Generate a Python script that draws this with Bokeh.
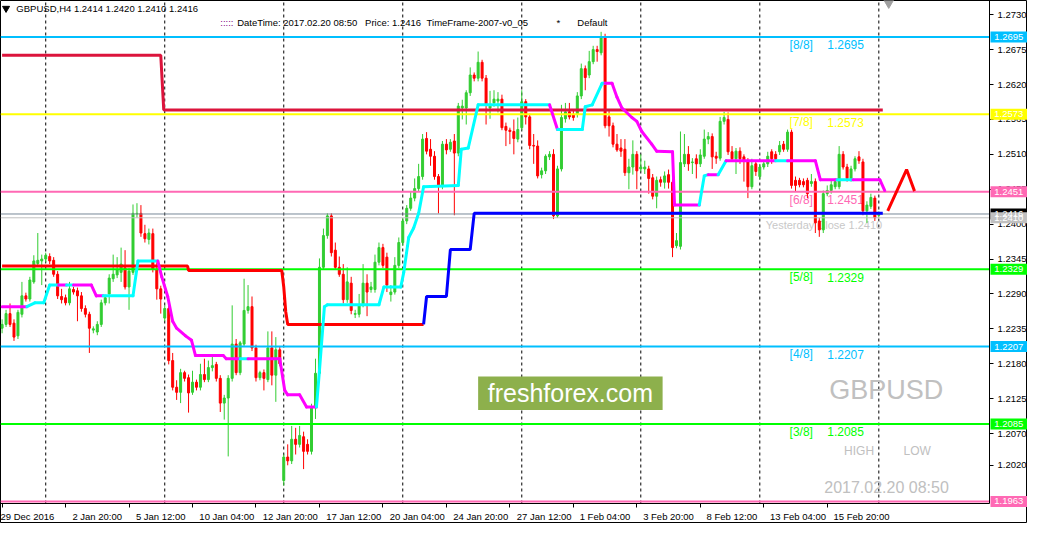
import numpy as np
from bokeh.plotting import figure
from bokeh.models import Range1d, FixedTicker, PrintfTickFormatter, LinearAxis
from bokeh.core.properties import value
from bokeh.embed import file_html
from bokeh.resources import INLINE

FONT = "Liberation Sans"

# ---------------- data: GBPUSD H4 candles ----------------
opens = [
 1.2236, 1.2242, 1.2259, 1.2244, 1.2224, 1.2258, 1.2287, 1.2282, 1.2309, 1.2338,
 1.2342, 1.2345, 1.2349, 1.2343, 1.2321, 1.2286, 1.2284, 1.2276, 1.2297, 1.2295,
 1.2287, 1.2267, 1.2258, 1.2233, 1.2230, 1.2242, 1.2276, 1.2290, 1.2314, 1.2320,
 1.2324, 1.2331, 1.2301, 1.2324, 1.2416, 1.2417, 1.2385, 1.2376, 1.2385, 1.2329,
 1.2298, 1.2252, 1.2267, 1.2185, 1.2143, 1.2135, 1.2166, 1.2158, 1.2135, 1.2151,
 1.2143, 1.2163, 1.2155, 1.2174, 1.2179, 1.2157, 1.2118, 1.2126, 1.2157, 1.2211,
 1.2166, 1.2211, 1.2264, 1.2270, 1.2205, 1.2158, 1.2166, 1.2155, 1.2205, 1.2162,
 1.2202, 1.1996, 1.2033, 1.2027, 1.2061, 1.2053, 1.2065, 1.2053, 1.2042, 1.2112,
 1.2165, 1.2332, 1.2382, 1.2413, 1.2359, 1.2332, 1.2321, 1.2281, 1.2307, 1.2258,
 1.2258, 1.2273, 1.2307, 1.2297, 1.2297, 1.2340, 1.2363, 1.2348, 1.2289, 1.2293,
 1.2335, 1.2371, 1.2405, 1.2425, 1.2441, 1.2456, 1.2475, 1.2535, 1.2518, 1.2507,
 1.2475, 1.2459, 1.2526, 1.2518, 1.2531, 1.2512, 1.2583, 1.2583, 1.2607, 1.2635,
 1.2630, 1.2655, 1.2630, 1.2583, 1.2591, 1.2594, 1.2597, 1.2554, 1.2548, 1.2546,
 1.2534, 1.2552, 1.2593, 1.2569, 1.2524, 1.2523, 1.2478, 1.2484, 1.2506, 1.2510,
 1.2413, 1.2487, 1.2566, 1.2577, 1.2573, 1.2573, 1.2602, 1.2645, 1.2635, 1.2656,
 1.2675, 1.2670, 1.2694, 1.2569, 1.2555, 1.2526, 1.2520, 1.2518, 1.2481, 1.2490,
 1.2510, 1.2487, 1.2487, 1.2487, 1.2473, 1.2444, 1.2470, 1.2466, 1.2478, 1.2466,
 1.2366, 1.2365, 1.2495, 1.2510, 1.2497, 1.2503, 1.2495, 1.2507, 1.2534, 1.2538,
 1.2507, 1.2504, 1.2562, 1.2565, 1.2514, 1.2503, 1.2515, 1.2506, 1.2498, 1.2459,
 1.2495, 1.2475, 1.2490, 1.2495, 1.2514, 1.2510, 1.2514, 1.2526, 1.2518, 1.2545,
 1.2469, 1.2469, 1.2467, 1.2469, 1.2464, 1.2467, 1.2405, 1.2391, 1.2448, 1.2453,
 1.2459, 1.2459, 1.2510, 1.2490, 1.2472, 1.2487, 1.2506, 1.2498, 1.2421, 1.2428,
 1.2441, 1.2414]
highs = [
 1.2250, 1.2265, 1.2275, 1.2250, 1.2265, 1.2309, 1.2292, 1.2317, 1.2351, 1.2386,
 1.2352, 1.2355, 1.2354, 1.2348, 1.2326, 1.2298, 1.2289, 1.2309, 1.2301, 1.2300,
 1.2293, 1.2272, 1.2262, 1.2239, 1.2247, 1.2281, 1.2289, 1.2321, 1.2352, 1.2348,
 1.2363, 1.2359, 1.2331, 1.2431, 1.2433, 1.2430, 1.2399, 1.2393, 1.2393, 1.2340,
 1.2303, 1.2272, 1.2275, 1.2197, 1.2154, 1.2172, 1.2169, 1.2163, 1.2169, 1.2155,
 1.2180, 1.2188, 1.2185, 1.2194, 1.2183, 1.2162, 1.2131, 1.2162, 1.2272, 1.2219,
 1.2216, 1.2314, 1.2304, 1.2286, 1.2210, 1.2169, 1.2171, 1.2231, 1.2231, 1.2222,
 1.2208, 1.2037, 1.2053, 1.2082, 1.2079, 1.2082, 1.2073, 1.2061, 1.2117, 1.2188,
 1.2346, 1.2393, 1.2417, 1.2417, 1.2371, 1.2349, 1.2337, 1.2332, 1.2317, 1.2265,
 1.2290, 1.2337, 1.2321, 1.2309, 1.2352, 1.2371, 1.2369, 1.2355, 1.2304, 1.2348,
 1.2379, 1.2410, 1.2430, 1.2452, 1.2472, 1.2495, 1.2542, 1.2545, 1.2534, 1.2515,
 1.2479, 1.2531, 1.2534, 1.2534, 1.2542, 1.2591, 1.2596, 1.2611, 1.2647, 1.2639,
 1.2672, 1.2659, 1.2635, 1.2610, 1.2611, 1.2608, 1.2604, 1.2560, 1.2552, 1.2565,
 1.2568, 1.2611, 1.2597, 1.2574, 1.2542, 1.2532, 1.2489, 1.2510, 1.2515, 1.2518,
 1.2492, 1.2588, 1.2591, 1.2591, 1.2580, 1.2608, 1.2653, 1.2650, 1.2673, 1.2681,
 1.2681, 1.2703, 1.2700, 1.2580, 1.2560, 1.2542, 1.2534, 1.2534, 1.2503, 1.2532,
 1.2515, 1.2510, 1.2500, 1.2492, 1.2479, 1.2475, 1.2475, 1.2483, 1.2486, 1.2475,
 1.2386, 1.2546, 1.2542, 1.2523, 1.2504, 1.2510, 1.2518, 1.2549, 1.2545, 1.2543,
 1.2514, 1.2569, 1.2577, 1.2576, 1.2523, 1.2520, 1.2521, 1.2510, 1.2504, 1.2503,
 1.2500, 1.2495, 1.2501, 1.2514, 1.2518, 1.2515, 1.2531, 1.2531, 1.2549, 1.2549,
 1.2475, 1.2473, 1.2472, 1.2473, 1.2479, 1.2472, 1.2410, 1.2453, 1.2461, 1.2469,
 1.2472, 1.2523, 1.2515, 1.2495, 1.2492, 1.2507, 1.2515, 1.2503, 1.2436, 1.2448,
 1.2445, 1.2420]
lows = [
 1.2228, 1.2238, 1.2238, 1.2216, 1.2219, 1.2253, 1.2278, 1.2278, 1.2306, 1.2334,
 1.2304, 1.2340, 1.2337, 1.2317, 1.2282, 1.2275, 1.2272, 1.2272, 1.2289, 1.2247,
 1.2262, 1.2253, 1.2197, 1.2228, 1.2225, 1.2238, 1.2272, 1.2275, 1.2309, 1.2315,
 1.2309, 1.2297, 1.2265, 1.2320, 1.2410, 1.2380, 1.2371, 1.2368, 1.2324, 1.2281,
 1.2259, 1.2247, 1.2179, 1.2138, 1.2123, 1.2118, 1.2152, 1.2103, 1.2131, 1.2138,
 1.2138, 1.2151, 1.2151, 1.2168, 1.2152, 1.2104, 1.2092, 1.2034, 1.2152, 1.2162,
 1.2162, 1.2207, 1.2259, 1.2200, 1.2152, 1.2154, 1.2138, 1.2151, 1.2146, 1.2120,
 1.2176, 1.1988, 1.2020, 1.2022, 1.2037, 1.2048, 1.2014, 1.2037, 1.2037, 1.2093,
 1.2160, 1.2328, 1.2377, 1.2349, 1.2328, 1.2317, 1.2275, 1.2276, 1.2258, 1.2252,
 1.2253, 1.2269, 1.2255, 1.2292, 1.2292, 1.2335, 1.2331, 1.2293, 1.2278, 1.2289,
 1.2331, 1.2366, 1.2400, 1.2421, 1.2436, 1.2452, 1.2470, 1.2510, 1.2492, 1.2470,
 1.2417, 1.2455, 1.2510, 1.2514, 1.2414, 1.2507, 1.2565, 1.2557, 1.2602, 1.2625,
 1.2625, 1.2625, 1.2557, 1.2566, 1.2585, 1.2576, 1.2548, 1.2523, 1.2526, 1.2510,
 1.2529, 1.2548, 1.2557, 1.2518, 1.2495, 1.2472, 1.2472, 1.2479, 1.2501, 1.2408,
 1.2410, 1.2483, 1.2560, 1.2565, 1.2563, 1.2568, 1.2597, 1.2611, 1.2630, 1.2652,
 1.2656, 1.2666, 1.2551, 1.2538, 1.2521, 1.2514, 1.2506, 1.2476, 1.2455, 1.2478,
 1.2455, 1.2483, 1.2479, 1.2448, 1.2439, 1.2425, 1.2459, 1.2456, 1.2456, 1.2348,
 1.2362, 1.2360, 1.2490, 1.2484, 1.2479, 1.2472, 1.2490, 1.2503, 1.2526, 1.2487,
 1.2495, 1.2500, 1.2557, 1.2509, 1.2498, 1.2479, 1.2495, 1.2467, 1.2441, 1.2455,
 1.2476, 1.2470, 1.2486, 1.2490, 1.2495, 1.2498, 1.2509, 1.2514, 1.2514, 1.2456,
 1.2452, 1.2458, 1.2458, 1.2441, 1.2459, 1.2386, 1.2380, 1.2386, 1.2444, 1.2448,
 1.2455, 1.2455, 1.2486, 1.2467, 1.2467, 1.2483, 1.2495, 1.2414, 1.2402, 1.2424,
 1.2405, 1.2410]
closes = [
 1.2242, 1.2259, 1.2242, 1.2222, 1.2261, 1.2287, 1.2282, 1.2312, 1.2342, 1.2343,
 1.2345, 1.2351, 1.2342, 1.2321, 1.2287, 1.2281, 1.2276, 1.2298, 1.2293, 1.2287,
 1.2267, 1.2258, 1.2236, 1.2235, 1.2242, 1.2276, 1.2284, 1.2315, 1.2321, 1.2328,
 1.2337, 1.2301, 1.2326, 1.2417, 1.2417, 1.2386, 1.2377, 1.2386, 1.2329, 1.2298,
 1.2282, 1.2267, 1.2185, 1.2143, 1.2135, 1.2166, 1.2157, 1.2134, 1.2151, 1.2143,
 1.2163, 1.2155, 1.2174, 1.2177, 1.2157, 1.2118, 1.2126, 1.2157, 1.2211, 1.2166,
 1.2213, 1.2264, 1.2270, 1.2205, 1.2158, 1.2166, 1.2157, 1.2205, 1.2162, 1.2202,
 1.2180, 1.2033, 1.2027, 1.2061, 1.2053, 1.2067, 1.2042, 1.2042, 1.2112, 1.2165,
 1.2332, 1.2382, 1.2413, 1.2355, 1.2332, 1.2321, 1.2281, 1.2309, 1.2264, 1.2259,
 1.2273, 1.2307, 1.2293, 1.2301, 1.2340, 1.2363, 1.2335, 1.2304, 1.2293, 1.2335,
 1.2371, 1.2405, 1.2425, 1.2441, 1.2456, 1.2475, 1.2534, 1.2515, 1.2507, 1.2475,
 1.2459, 1.2526, 1.2517, 1.2529, 1.2512, 1.2586, 1.2586, 1.2607, 1.2635, 1.2630,
 1.2655, 1.2630, 1.2588, 1.2588, 1.2597, 1.2597, 1.2552, 1.2548, 1.2546, 1.2535,
 1.2549, 1.2593, 1.2569, 1.2524, 1.2523, 1.2476, 1.2484, 1.2507, 1.2510, 1.2413,
 1.2487, 1.2568, 1.2577, 1.2569, 1.2568, 1.2602, 1.2645, 1.2631, 1.2656, 1.2675,
 1.2672, 1.2694, 1.2555, 1.2555, 1.2526, 1.2517, 1.2515, 1.2481, 1.2490, 1.2510,
 1.2484, 1.2490, 1.2490, 1.2472, 1.2444, 1.2469, 1.2466, 1.2476, 1.2466, 1.2363,
 1.2374, 1.2497, 1.2510, 1.2495, 1.2498, 1.2495, 1.2509, 1.2534, 1.2538, 1.2506,
 1.2504, 1.2562, 1.2568, 1.2514, 1.2503, 1.2515, 1.2503, 1.2500, 1.2459, 1.2492,
 1.2483, 1.2490, 1.2495, 1.2507, 1.2503, 1.2503, 1.2524, 1.2518, 1.2545, 1.2461,
 1.2461, 1.2462, 1.2462, 1.2448, 1.2467, 1.2402, 1.2391, 1.2448, 1.2453, 1.2462,
 1.2467, 1.2510, 1.2490, 1.2472, 1.2487, 1.2503, 1.2500, 1.2421, 1.2430, 1.2442,
 1.2410, 1.2416]

x_tick_bars = [0, 16, 32, 48, 64, 80, 96, 112, 128, 144, 160, 176, 192, 208]
x_tick_labels = ["29 Dec 2016", "2 Jan 20:00", "5 Jan 12:00", "10 Jan 04:00",
                 "12 Jan 20:00", "17 Jan 12:00", "20 Jan 04:00", "24 Jan 20:00",
                 "27 Jan 12:00", "1 Feb 04:00", "3 Feb 20:00", "8 Feb 12:00",
                 "13 Feb 04:00", "15 Feb 20:00"]
y_ticks = [1.2730, 1.2675, 1.2620, 1.2565, 1.2510, 1.2455, 1.2400, 1.2345,
           1.2290, 1.2235, 1.2180, 1.2125, 1.2070, 1.2020]
grid_bars = [11, 41, 71, 101, 131, 161, 191, 221]

# Murrey Math levels
mm_levels = [1.2695, 1.2573, 1.2451, 1.2329, 1.2207, 1.2085, 1.1963]
mm_names = ["[8/8]", "[7/8]", "[6/8]", "[5/8]", "[4/8]", "[3/8]", "[2/8]"]
mm_colors = ["#00BFFF", "#FFFF00", "#FF69B4", "#00FF00", "#00BFFF", "#00FF00", "#FF69B4"]
yesterday_close = 1.2410
bid = 1.2416

# upper step line (crimson)
hi_step_x = [0, 40, 40.75, 222]
hi_step_y = [1.2666, 1.2666, 1.2580, 1.2580]
# lower step line: red (down) part then blue (up) part
lo_red_x = [0, 46.75, 47, 70.5, 71, 71.5, 72, 106.25]
lo_red_y = [1.2334, 1.2334, 1.2327, 1.2327, 1.2301, 1.2262, 1.2242, 1.2242]
lo_blue_x = [106.25, 107, 112, 113, 118, 119, 222]
lo_blue_y = [1.2242, 1.2286, 1.2286, 1.2360, 1.2360, 1.2417, 1.2417]

# smoothed trend line: vertices and segment direction (C = up/cyan, M = down/magenta)
ma_x = [0, 6.25, 8.25, 10.5, 12, 14.25, 16.25, 18, 22.5, 23.75,
        25.5, 33, 34.25, 39.25, 40.25, 41.75, 43, 44, 46.25, 47.75,
        48.75, 55.75, 56.5, 60, 62, 70, 71.25, 72, 75, 76.75,
        79.25, 80, 81.25, 82, 95, 96.25, 100.5, 101.25, 102.5, 103.75,
        105, 106.25, 115, 115.75, 117.5, 120, 138, 140, 146.25, 147,
        148.75, 151.25, 152, 153.75, 155, 156.25, 158.75, 160, 161.25, 163.75,
        165, 169, 169.5, 175.75, 177, 178, 180.5, 182.5, 195, 198,
        205, 206.25, 210.5, 214.5, 221.25, 222.5]
ma_y = [1.2270, 1.2270, 1.2276, 1.2276, 1.2304, 1.2304, 1.2304, 1.2304, 1.2304, 1.2287,
        1.2287, 1.2287, 1.2342, 1.2342, 1.2317, 1.2286, 1.2247, 1.2236, 1.2224, 1.2217,
        1.2193, 1.2193, 1.2188, 1.2188, 1.2188, 1.2188, 1.2138, 1.2131, 1.2131, 1.2112,
        1.2112, 1.2169, 1.2270, 1.2273, 1.2273, 1.2301, 1.2301, 1.2324, 1.2379, 1.2394,
        1.2417, 1.2459, 1.2461, 1.2518, 1.2520, 1.2588, 1.2588, 1.2549, 1.2549, 1.2585,
        1.2588, 1.2622, 1.2622, 1.2622, 1.2600, 1.2583, 1.2568, 1.2562, 1.2546, 1.2526,
        1.2515, 1.2514, 1.2430, 1.2430, 1.2476, 1.2478, 1.2478, 1.2500, 1.2500, 1.2500,
        1.2500, 1.2470, 1.2470, 1.2470, 1.2470, 1.2453]
ma_dir = list("MCCCCMCMMM" "CCCMMMMMMM" "MMMCMMMMMM" "CCCCCCCCCC"
              "CCCCCCMCCC" "CCMMMMMMMM" "MMMCCMCMCM" "MMCMM")

arrow_x = [223.25, 228, 230]
arrow_y = [1.2421, 1.2486, 1.2452]

n = len(closes)
assert len(opens) == n and len(highs) == n and len(lows) == n
assert len(ma_x) == len(ma_y) == len(ma_dir) + 1

# ---------------- layout geometry ----------------
W, H = 1027, 523
CHART_W, CHART_H = 989, 503          # price area in pixels; the rest is the axis strips
X_START, X_END = -0.4, 248.9
Y_TOP, Y_BOTTOM = 1.27524, 1.19598
x_full_end = X_START + (X_END - X_START) * W / CHART_W
y_full_start = Y_TOP - (Y_TOP - Y_BOTTOM) * H / CHART_H
bar_px = CHART_W / (X_END - X_START)
price_px = CHART_H / (Y_TOP - Y_BOTTOM)

p = figure(width=W, height=H, title=None,
           x_range=Range1d(X_START, x_full_end), y_range=Range1d(y_full_start, Y_TOP),
           x_axis_location=None, y_axis_location=None,
           output_backend="svg", toolbar_location=None,
           min_border_left=0, min_border_top=0, min_border_right=0, min_border_bottom=0)
p.outline_line_color = "black"
p.background_fill_color = "white"
p.border_fill_color = "white"
p.xgrid.visible = False
p.ygrid.visible = False

# label width helper (Arial/Liberation metrics) so that date labels start at their tick
CW = {' ': .278, ':': .278, 'D': .722, 'e': .556, 'c': .5, 'J': .5, 'a': .556,
      'n': .556, 'F': .611, 'b': .556}
def em(s):
    return sum(CW.get(ch, .556) for ch in s)

def left_aligned(i, s):
    if i == 0:
        return s
    return "\u00a0" * (int(round(em(s) / .278)) + 5) + s

yaxis = LinearAxis(fixed_location=X_END, ticker=FixedTicker(ticks=y_ticks),
                   formatter=PrintfTickFormatter(format="%.4f"))
xaxis = LinearAxis(fixed_location=Y_BOTTOM, ticker=FixedTicker(ticks=x_tick_bars))
xaxis.major_label_overrides = {b: left_aligned(i, l)
                               for i, (b, l) in enumerate(zip(x_tick_bars, x_tick_labels))}
for ax in (xaxis, yaxis):
    ax.axis_line_color = "black"
    ax.major_tick_line_color = "black"
    ax.major_tick_in = 0
    ax.major_tick_out = 4
    ax.minor_tick_in = 0
    ax.minor_tick_out = 0
    ax.major_label_text_font = FONT
    ax.major_label_text_font_size = "9.5px"
    ax.major_label_text_color = "black"
yaxis.major_label_standoff = 4
xaxis.major_label_standoff = 3
yaxis.bounds = (Y_BOTTOM, Y_TOP)
xaxis.bounds = (X_START, X_END)
p.add_layout(yaxis, "right")
p.add_layout(xaxis, "below")

# vertical dashed grid
p.segment(x0=grid_bars, x1=grid_bars, y0=[Y_BOTTOM] * len(grid_bars), y1=[Y_TOP] * len(grid_bars),
          line_color="black", line_dash="3 3", line_width=1, level="underlay")

# watermark box
p.quad(left=[120], right=[166.5], top=[1.2160], bottom=[1.2107],
       fill_color="#8DB04C", line_color=None, level="underlay")
p.text(x=[143.25], y=[1.21335], text=["freshforex.com"], text_color="white",
       text_font=value(FONT), text_font_size="25px", text_align="center",
       text_baseline="middle", level="underlay")

def txt(x, y, s, color, size, align="left", level="glyph"):
    p.text(x=[x], y=[y], text=[s], text_color=color, text_font=value(FONT),
           text_font_size=size, text_align=align, text_baseline="middle", level=level)

txt(208.5, 1.2138, "GBPUSD", "#C0C0C0", "27px")
txt(212.25, 1.2042, "HIGH", "#C0C0C0", "12px")
txt(227.25, 1.2042, "LOW", "#C0C0C0", "12px")
txt(207.25, 1.1985, "2017.02.20 08:50", "#C0C0C0", "16px")
txt(192.5, 1.2399, "Yesterday Close %.4f" % yesterday_close, "#C8C8C8", "11px")

# Murrey labels
for lvl, nm, col in zip(mm_levels[:6], mm_names[:6], mm_colors[:6]):
    txt(198.5, lvl - 0.00124, nm, col, "12px")
    txt(208.0, lvl - 0.00124, "%.4f" % lvl, col, "12px")

# candles
o = np.array(opens); c = np.array(closes)
idx = np.arange(n)
cols = np.where(c >= o, "#32CD32", "#FF0000")
p.segment(x0=idx, y0=highs, x1=idx, y1=lows, line_color=cols, line_width=1)
p.vbar(x=idx, width=0.5, top=np.maximum(o, c), bottom=np.minimum(o, c),
       fill_color=cols, line_color=cols, line_width=1)

# level lines (stop at the price axis)
lv_all = mm_levels + [yesterday_close, bid]
lv_cols = mm_colors + ["#C0C0C0", "#778899"]
lv_w = [2] * len(mm_levels) + [1, 1]
p.segment(x0=[X_START] * len(lv_all), x1=[X_END] * len(lv_all), y0=lv_all, y1=lv_all,
          line_color=lv_cols, line_width=lv_w)

# indicator lines
p.line(hi_step_x, hi_step_y, line_color="#DC143C", line_width=3)
p.line(lo_red_x, lo_red_y, line_color="#FF0000", line_width=3)
p.line(lo_blue_x, lo_blue_y, line_color="#0000FF", line_width=3)
seg_cols = ["#00FFFF" if d == "C" else "#FF00FF" for d in ma_dir]
p.segment(x0=ma_x[:-1], y0=ma_y[:-1], x1=ma_x[1:], y1=ma_y[1:],
          line_color=seg_cols, line_width=3, line_cap="round")
p.line(arrow_x, arrow_y, line_color="#FF0000", line_width=3)

# header
p.scatter(x=[1.0], y=[1.2740], marker="inverted_triangle", size=7, color="black")
txt(3.6, 1.2740, "GBPUSD,H4  %.4f %.4f %.4f %.4f" % (opens[-1], highs[-1], lows[-1], closes[-1]),
    "black", "9.5px")
txt(55.0, 1.2718, ":::::", "#800080", "9.5px")
txt(59.25, 1.2718, "DateTime: 2017.02.20 08:50", "black", "9.5px")
txt(91.5, 1.2718, "Price: %.4f" % closes[-1], "black", "9.5px")
txt(107.0, 1.2718, "TimeFrame-2007-v0_05", "black", "9.5px")
txt(139.75, 1.2718, "*", "black", "9.5px")
txt(145.0, 1.2718, "Default", "black", "9.5px")
p.scatter(x=[223.5], y=[1.2749], marker="inverted_triangle", size=10, color="#A0A0A0")

# price boxes on the price axis (drawn above the tick labels)
box_levels = mm_levels + [bid, yesterday_close]
box_cols = mm_colors + ["black", "#C0C0C0"]
half_h = 5.5 / price_px
box_l = X_END + 0.25
box_r = X_END + 37.5 / bar_px
p.quad(left=[box_l] * len(box_levels), right=[box_r] * len(box_levels),
       top=[v + half_h for v in box_levels], bottom=[v - half_h for v in box_levels],
       fill_color=box_cols, line_color=None, level="overlay")
p.text(x=[(box_l + box_r) / 2] * len(box_levels), y=box_levels,
       text=["%.4f" % v for v in box_levels], text_color="white",
       text_font=value(FONT), text_font_size="9.5px", text_align="center",
       text_baseline="middle", level="overlay")

open("out.html", "w").write(file_html(p, INLINE))
